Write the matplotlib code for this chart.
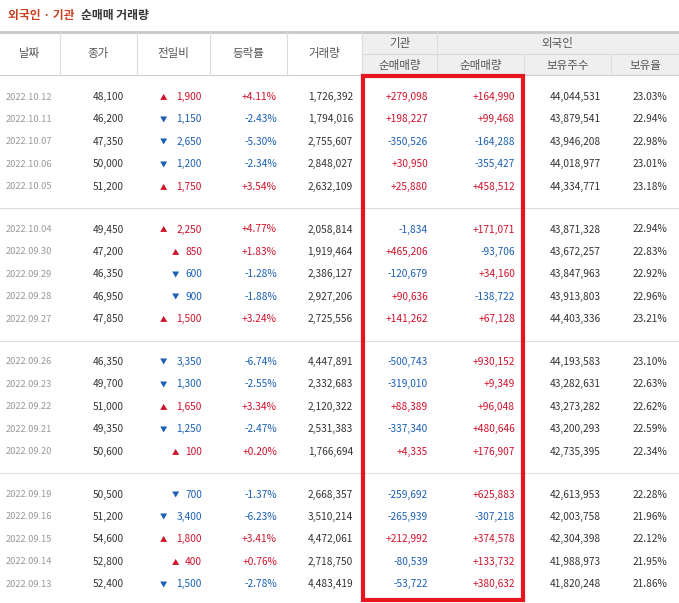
import matplotlib.pyplot as plt
from matplotlib.patches import Rectangle

plt.rcParams['font.family'] = ['Noto Sans CJK KR', 'DejaVu Sans']

dates = ['2022.10.12', '2022.10.11', '2022.10.07', '2022.10.06', '2022.10.05',
         '2022.10.04', '2022.09.30', '2022.09.29', '2022.09.28', '2022.09.27',
         '2022.09.26', '2022.09.23', '2022.09.22', '2022.09.21', '2022.09.20',
         '2022.09.19', '2022.09.16', '2022.09.15', '2022.09.14', '2022.09.13']
close = [48100, 46200, 47350, 50000, 51200, 49450, 47200, 46350, 46950, 47850,
         46350, 49700, 51000, 49350, 50600, 50500, 51200, 54600, 52800, 52400]
change = [1900, -1150, -2650, -1200, 1750, 2250, 850, -600, -900, 1500,
          -3350, -1300, 1650, -1250, 100, -700, -3400, 1800, 400, -1500]
rate = [4.11, -2.43, -5.30, -2.34, 3.54, 4.77, 1.83, -1.28, -1.88, 3.24,
        -6.74, -2.55, 3.34, -2.47, 0.20, -1.37, -6.23, 3.41, 0.76, -2.78]
volume = [1726392, 1794016, 2755607, 2848027, 2632109, 2058814, 1919464, 2386127, 2927206, 2725556,
          4447891, 2332683, 2120322, 2531383, 1766694, 2668357, 3510214, 4472061, 2718750, 4483419]
inst_net = [279098, 198227, -350526, 30950, 25880, -1834, 465206, -120679, 90636, 141262,
            -500743, -319010, 88389, -337340, 4335, -259692, -265939, 212992, -80539, -53722]
frgn_net = [164990, 99468, -164288, -355427, 458512, 171071, -93706, 34160, -138722, 67128,
            930152, 9349, 96048, 480646, 176907, 625883, -307218, 374578, 133732, 380632]
frgn_hold = [44044531, 43879541, 43946208, 44018977, 44334771, 43871328, 43672257, 43847963, 43913803, 44403336,
             44193583, 43282631, 43273282, 43200293, 42735395, 42613953, 42003758, 42304398, 41988973, 41820248]
frgn_ratio = [23.03, 22.94, 22.98, 23.01, 23.18, 22.94, 22.83, 22.92, 22.96, 23.21,
              23.10, 22.63, 22.62, 22.59, 22.34, 22.28, 21.96, 22.12, 21.95, 21.86]

RED = '#d0112b'
BLUE = '#1a5fb4'
BLACK = '#333333'
GRAY = '#999999'
col_edges = [0, 60, 137, 210, 287, 362, 437, 524, 611, 679]
FS = 7.3
HFS = 8.3

fig = plt.figure(figsize=(6.79, 6.03), dpi=100)
ax = fig.add_axes([0, 0, 1, 1])
ax.set_xlim(0, 679)
ax.set_ylim(603, 0)
ax.axis('off')

# title
ax.text(8, 16, '외국인 · 기관', color='#c8401e', fontsize=8.5, fontweight='bold', va='center')
ax.text(81, 16, '순매매 거래량', color='#333333', fontsize=8.5, fontweight='bold', va='center')

# header
ax.add_patch(Rectangle((362, 32), 317, 43, color='#efefef', zorder=0))
ax.plot([0, 679], [32, 32], color='#c8c8c8', lw=2)
ax.plot([0, 679], [75, 75], color='#d0d0d0', lw=0.8)
ax.plot([362, 679], [54, 54], color='#d8d8d8', lw=0.8)
for x in col_edges[1:-1]:
    top = 54 if x in (524, 611) else 32
    ax.plot([x, x], [top, 75], color='#dddddd', lw=0.8)
hdr = ['날짜', '종가', '전일비', '등락률', '거래량']
for i, h in enumerate(hdr):
    ax.text((col_edges[i] + col_edges[i + 1]) / 2, 54, h, ha='center', va='center', fontsize=HFS, color='#555555')
ax.text(399.5, 43, '기관', ha='center', va='center', fontsize=HFS, color='#555555')
ax.text(557, 43, '외국인', ha='center', va='center', fontsize=HFS, color='#555555')
for i, h in enumerate(['순매매량', '순매매량', '보유주수', '보유율']):
    ax.text((col_edges[5 + i] + col_edges[6 + i]) / 2, 65, h, ha='center', va='center', fontsize=HFS, color='#555555')

def signed(v):
    return f'{v:+,}'

for i in range(len(dates)):
    g, r = divmod(i, 5)
    y = 97 + g * 132.5 + r * 22.4
    ax.text(6, y, dates[i], ha='left', va='center', fontsize=FS - 0.6, color=GRAY)
    ax.text(124, y, f'{close[i]:,}', ha='right', va='center', fontsize=FS, color=BLACK)
    c = RED if change[i] > 0 else BLUE
    s = f'{abs(change[i]):,}'
    ax.text(202, y, s, ha='right', va='center', fontsize=FS, color=c)
    ax.text(202 - 6.0 * len(s) - 5, y, '▲' if change[i] > 0 else '▼',
            ha='right', va='center', fontsize=FS - 2, color=c)
    ax.text(277, y, f'{rate[i]:+.2f}%', ha='right', va='center', fontsize=FS,
            color=RED if rate[i] > 0 else BLUE)
    ax.text(353, y, f'{volume[i]:,}', ha='right', va='center', fontsize=FS, color=BLACK)
    ax.text(428, y, signed(inst_net[i]), ha='right', va='center', fontsize=FS,
            color=RED if inst_net[i] > 0 else BLUE)
    ax.text(515, y, signed(frgn_net[i]), ha='right', va='center', fontsize=FS,
            color=RED if frgn_net[i] > 0 else BLUE)
    ax.text(601, y, f'{frgn_hold[i]:,}', ha='right', va='center', fontsize=FS, color=BLACK)
    ax.text(667, y, f'{frgn_ratio[i]:.2f}%', ha='right', va='center', fontsize=FS, color=BLACK)

for yy in [208, 340.5, 473]:
    ax.plot([0, 679], [yy, yy], color='#dddddd', lw=0.8)

ax.add_patch(Rectangle((363, 76), 160, 524, fill=False, ec='#e8141e', lw=3, zorder=5))

fig.savefig('out.png', dpi=100)
